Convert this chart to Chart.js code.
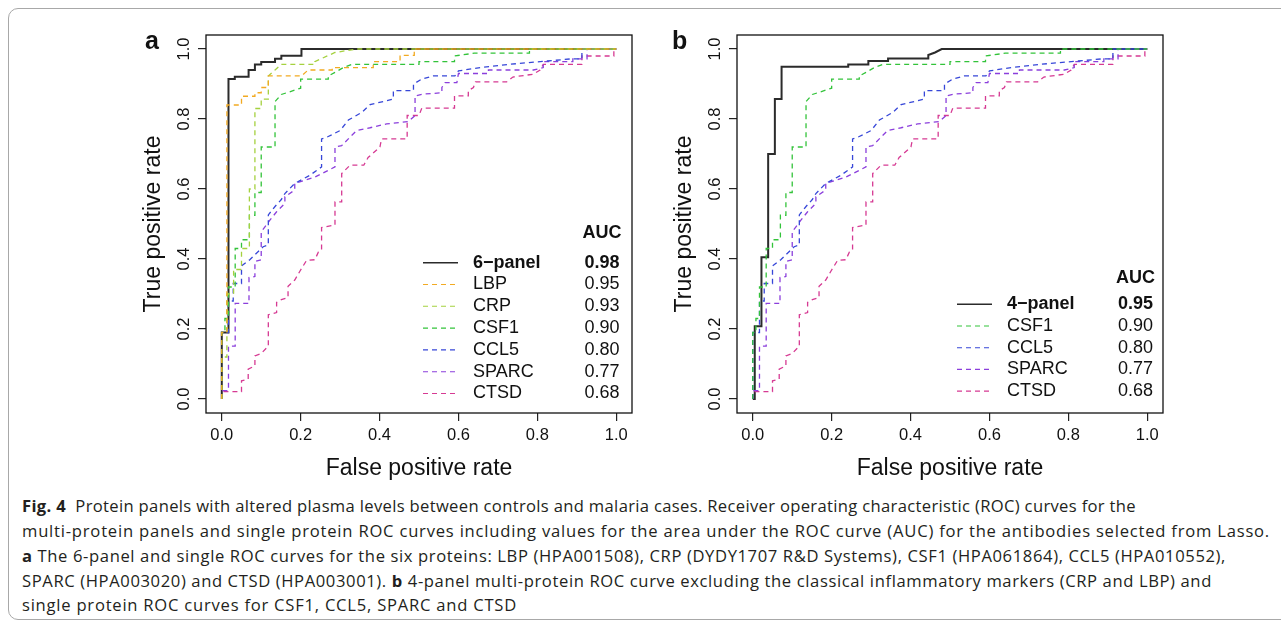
<!DOCTYPE html>
<html>
<head>
<meta charset="utf-8">
<script src="https://cdn.jsdelivr.net/npm/chart.js@4.4.1/dist/chart.umd.min.js"></script>
<style>
  body { margin:0; background:#fff; width:1281px; height:628px; overflow:hidden; position:relative; }
  .frame { position:absolute; left:8px; top:8px; width:1300px; height:610px; border:1px solid #a8a8a8; border-radius:10px; }
  canvas { position:absolute; top:20px; }
  .cap { position:absolute; left:22px; font-family:"Open Sans", sans-serif; font-size:16.6px; line-height:24px; white-space:nowrap; color:#231f20; }
</style>
</head>
<body>
<div class="frame"></div>
<canvas id="rocA" width="525" height="470" style="left:120px"></canvas>
<canvas id="rocB" width="525" height="470" style="left:651px"></canvas>

<div class="cap" data-right="1136" style="top:494px"><b>Fig. 4</b>&nbsp; Protein panels with altered plasma levels between controls and malaria cases. Receiver operating characteristic (ROC) curves for the</div>
<div class="cap" data-right="1270" style="top:519px">multi-protein panels and single protein ROC curves including values for the area under the ROC curve (AUC) for the antibodies selected from Lasso.</div>
<div class="cap" data-right="1226" style="top:544px"><b>a</b> The 6-panel and single ROC curves for the six proteins: LBP (HPA001508), CRP (DYDY1707 R&amp;D Systems), CSF1 (HPA061864), CCL5 (HPA010552),</div>
<div class="cap" data-right="1212" style="top:569px">SPARC (HPA003020) and CTSD (HPA003001). <b>b</b> 4-panel multi-protein ROC curve excluding the classical inflammatory markers (CRP and LBP) and</div>
<div class="cap" data-right="517" style="top:593px">single protein ROC curves for CSF1, CCL5, SPARC and CTSD</div>

<script>
// axis ticks
const xTicks = [0, 0.2, 0.4, 0.6, 0.8, 1.0];
const yTicks = [0, 0.2, 0.4, 0.6, 0.8, 1.0];

// ROC curves, [false positive rate, true positive rate]
const panel6 = [[0,0],[0,0.19],[0.017,0.19],[0.017,0.914],[0.033,0.914],[0.033,0.921],[0.068,0.921],[0.068,0.94],
  [0.084,0.94],[0.084,0.956],[0.1,0.956],[0.1,0.963],[0.135,0.963],[0.135,0.972],[0.151,0.972],[0.151,0.981],
  [0.202,0.981],[0.202,1],[1,1]];
const panel4 = [[0,0],[0.005,0],[0.005,0.208],[0.022,0.208],[0.022,0.405],[0.039,0.405],[0.039,0.70],[0.056,0.70],
  [0.056,0.857],[0.073,0.857],[0.073,0.949],[0.242,0.949],[0.242,0.956],[0.293,0.956],[0.293,0.966],[0.343,0.966],
  [0.343,0.973],[0.445,0.973],[0.445,0.983],[0.462,0.99],[0.479,1],[1,1]];
const rocLBP = [[0,0],[0,0.19],[0.013,0.19],[0.013,0.84],[0.05,0.84],[0.05,0.865],[0.084,0.865],[0.084,0.875],
  [0.1,0.875],[0.1,0.89],[0.118,0.89],[0.118,0.923],[0.202,0.923],[0.219,0.94],[0.28,0.94],[0.28,0.947],
  [0.384,0.947],[0.384,0.964],[0.452,0.964],[0.452,0.982],[0.488,0.982],[0.488,1],[1,1]];
const rocCRP = [[0,0],[0,0.12],[0.013,0.12],[0.013,0.30],[0.03,0.30],[0.03,0.37],[0.05,0.37],[0.05,0.43],
  [0.07,0.43],[0.07,0.60],[0.084,0.60],[0.084,0.83],[0.1,0.83],[0.1,0.857],[0.118,0.857],[0.118,0.923],
  [0.135,0.94],[0.151,0.956],[0.236,0.956],[0.236,0.964],[0.287,0.99],[0.342,1],[1,1]];
const rocCSF1 = [[0,0],[0,0.19],[0.008,0.19],[0.008,0.23],[0.017,0.23],[0.017,0.32],[0.034,0.32],[0.034,0.43],
  [0.05,0.43],[0.05,0.455],[0.07,0.455],[0.07,0.525],[0.084,0.525],[0.084,0.59],[0.1,0.59],[0.1,0.72],
  [0.135,0.72],[0.135,0.85],[0.151,0.87],[0.2,0.888],[0.2,0.914],[0.27,0.914],[0.27,0.923],[0.287,0.933],
  [0.308,0.947],[0.33,0.956],[0.5,0.956],[0.5,0.964],[0.59,0.964],[0.59,0.98],[0.64,0.988],[0.78,0.988],
  [0.78,1],[1,1]];
const rocCCL5 = [[0,0],[0,0.19],[0.017,0.19],[0.017,0.28],[0.029,0.28],[0.029,0.33],[0.05,0.33],[0.05,0.38],
  [0.071,0.398],[0.105,0.435],[0.118,0.44],[0.118,0.526],[0.135,0.55],[0.151,0.57],[0.16,0.587],[0.185,0.616],
  [0.223,0.639],[0.253,0.663],[0.253,0.743],[0.27,0.75],[0.3,0.767],[0.321,0.797],[0.355,0.819],[0.376,0.841],
  [0.435,0.857],[0.435,0.881],[0.486,0.881],[0.486,0.9],[0.507,0.914],[0.536,0.923],[0.591,0.923],[0.6,0.9375],
  [0.655,0.947],[0.727,0.956],[0.807,0.964],[0.888,0.972],[0.913,0.972],[0.913,1],[1,1]];
const rocSPARC = [[0,0],[0,0.024],[0.017,0.024],[0.017,0.151],[0.034,0.151],[0.034,0.273],[0.069,0.273],[0.069,0.347],
  [0.084,0.35],[0.084,0.393],[0.1,0.398],[0.1,0.478],[0.122,0.511],[0.139,0.535],[0.16,0.559],[0.16,0.578],
  [0.185,0.597],[0.185,0.616],[0.236,0.634],[0.287,0.663],[0.287,0.72],[0.304,0.724],[0.325,0.748],[0.342,0.767],
  [0.376,0.775],[0.418,0.786],[0.473,0.793],[0.49,0.81],[0.49,0.866],[0.51,0.871],[0.558,0.875],[0.558,0.89],
  [0.566,0.904],[0.596,0.904],[0.6,0.93],[0.676,0.93],[0.676,0.94],[0.79,0.94],[0.815,0.947],[0.815,0.964],
  [0.89,0.964],[0.89,0.972],[0.926,0.972],[0.926,1],[1,1]];
const rocCTSD = [[0,0],[0,0.021],[0.05,0.021],[0.05,0.052],[0.067,0.057],[0.067,0.085],[0.084,0.095],[0.084,0.123],
  [0.1,0.13],[0.118,0.151],[0.118,0.241],[0.139,0.247],[0.139,0.276],[0.151,0.284],[0.168,0.29],[0.168,0.322],
  [0.185,0.34],[0.198,0.365],[0.215,0.396],[0.236,0.398],[0.245,0.42],[0.253,0.426],[0.253,0.49],[0.287,0.497],
  [0.287,0.563],[0.304,0.563],[0.304,0.644],[0.325,0.668],[0.36,0.668],[0.371,0.69],[0.401,0.72],[0.405,0.743],
  [0.47,0.743],[0.47,0.81],[0.5,0.81],[0.507,0.831],[0.59,0.831],[0.59,0.866],[0.625,0.866],[0.625,0.881],
  [0.638,0.89],[0.643,0.906],[0.722,0.906],[0.738,0.92],[0.79,0.928],[0.807,0.94],[0.815,0.956],[0.913,0.956],
  [0.913,0.98],[0.994,0.98],[0.994,1],[1,1]];

// legend names and AUC values
const namesA = ['6\u2212panel', 'LBP', 'CRP', 'CSF1', 'CCL5', 'SPARC', 'CTSD'];
const aucA = ['0.98', '0.95', '0.93', '0.90', '0.80', '0.77', '0.68'];
const namesB = ['4\u2212panel', 'CSF1', 'CCL5', 'SPARC', 'CTSD'];
const aucB = ['0.95', '0.90', '0.80', '0.77', '0.68'];

const colours = {
  panel: '#2b2b2b', LBP: '#f2aa22', CRP: '#a5d13f', CSF1: '#33c33a',
  CCL5: '#3747d8', SPARC: '#8b3fdc', CTSD: '#d63a93'
};
const FONT = '"Liberation Sans", Arial, sans-serif';

function line(label, pts, colour, auc, solid) {
  return {
    label: label,
    auc: auc,
    data: pts.map(p => ({x: p[0], y: p[1]})),
    borderColor: colour,
    borderWidth: solid ? 2 : 1.3,
    borderDash: solid ? [] : [5, 4],
    borderJoinStyle: 'miter',
    pointRadius: 0,
    tension: 0,
    fill: false,
    order: solid ? 10 : 1
  };
}

// R-style bits: box, rotated y tick labels, panel letter and AUC legend
const rLook = {
  id: 'rLook',
  afterDraw(chart, args, o) {
    const ctx = chart.ctx, a = chart.chartArea, ys = chart.scales.y;
    ctx.save();
    ctx.strokeStyle = '#111';
    ctx.lineWidth = 1.3;
    ctx.strokeRect(a.left, a.top, a.right - a.left, a.bottom - a.top);

    ctx.fillStyle = '#111';
    ctx.font = '16.5px ' + FONT;
    ctx.textAlign = 'center';
    ctx.textBaseline = 'middle';
    ys.ticks.forEach(t => {
      ctx.save();
      ctx.translate(a.left - 22, ys.getPixelForValue(t.value));
      ctx.rotate(-Math.PI / 2);
      ctx.fillText(t.value.toFixed(1), 0, 0);
      ctx.restore();
    });

    ctx.font = 'bold 25px ' + FONT;
    ctx.textAlign = 'left';
    ctx.textBaseline = 'alphabetic';
    ctx.fillText(o.letter, o.letterX, 28.5);

    // legend
    const L = o.legend;
    ctx.textBaseline = 'middle';
    ctx.font = 'bold 18px ' + FONT;
    ctx.textAlign = 'center';
    ctx.fillText('AUC', a.left + L.valX, a.top + L.headY);
    chart.data.datasets.forEach((ds, i) => {
      const y = a.top + L.rowY + i * L.step;
      ctx.save();
      ctx.strokeStyle = ds.borderColor;
      ctx.lineWidth = i === 0 ? 1.6 : 1.1;
      ctx.setLineDash(i === 0 ? [] : [5, 4]);
      ctx.beginPath();
      ctx.moveTo(a.left + L.x0, y);
      ctx.lineTo(a.left + L.x1, y);
      ctx.stroke();
      ctx.restore();
      ctx.font = (i === 0 ? 'bold ' : '') + '18px ' + FONT;
      ctx.textAlign = 'left';
      ctx.fillText(ds.label, a.left + L.textX, y);
      ctx.textAlign = 'center';
      ctx.fillText(ds.auc, a.left + L.valX, y);
    });
    ctx.restore();
  }
};

function axis(ticks, title, horizontal) {
  const s = {
    type: 'linear', min: -0.04, max: 1.04,
    afterBuildTicks: sc => { sc.ticks = ticks.map(v => ({value: v})); },
    grid: { display: true, drawOnChartArea: false, drawTicks: true, tickLength: 8, color: '#222', lineWidth: 1.2 },
    border: { display: false },
    title: { display: true, text: title, color: '#111', font: { family: FONT, size: 23 } }
  };
  if (horizontal) {
    s.afterFit = sc => { sc.height = 77; };
    s.ticks = { color: '#111', font: { family: FONT, size: 16.5 }, padding: 5, maxRotation: 0,
                autoSkip: false, callback: v => v.toFixed(1) };
    s.title.padding = { top: 0, bottom: 8 };
  } else {
    s.afterFit = sc => { sc.width = 86; };
    s.ticks = { display: false };
    s.title.padding = { top: 20, bottom: 0 };
  }
  return s;
}

function makeChart(id, datasets, letter, letterX, legend) {
  return new Chart(document.getElementById(id), {
    type: 'line',
    data: { datasets: datasets },
    options: {
      responsive: false,
      animation: false,
      devicePixelRatio: 1,
      layout: { padding: { left: 0, top: 15, right: 13, bottom: 0 } },
      plugins: { legend: { display: false }, tooltip: { enabled: false }, rLook: { letter, letterX, legend } },
      scales: {
        x: axis(xTicks, 'False positive rate', true),
        y: axis(yTicks, 'True positive rate', false)
      }
    },
    plugins: [rLook]
  });
}

const seriesA = [panel6, rocLBP, rocCRP, rocCSF1, rocCCL5, rocSPARC, rocCTSD];
const keysA = ['panel', 'LBP', 'CRP', 'CSF1', 'CCL5', 'SPARC', 'CTSD'];
makeChart('rocA',
  seriesA.map((s, i) => line(namesA[i], s, colours[keysA[i]], aucA[i], i === 0)),
  'a', 25,
  { headY: 198.3, rowY: 227.7, step: 21.8, x0: 217, x1: 252, textX: 267, valX: 396 });

const seriesB = [panel4, rocCSF1, rocCCL5, rocSPARC, rocCTSD];
const keysB = ['panel', 'CSF1', 'CCL5', 'SPARC', 'CTSD'];
makeChart('rocB',
  seriesB.map((s, i) => line(namesB[i], s, colours[keysB[i]], aucB[i], i === 0)),
  'b', 21,
  { headY: 243.3, rowY: 269.3, step: 21.7, x0: 220, x1: 255, textX: 270, valX: 398.5 });

// stretch caption lines to the reference line ends
document.querySelectorAll('.cap').forEach(el => {
  const w = el.getBoundingClientRect().width;
  const target = +el.dataset.right - 22;
  const n = el.textContent.length;
  el.style.letterSpacing = ((target - w) / n).toFixed(3) + 'px';
});
</script>
</body>
</html>
